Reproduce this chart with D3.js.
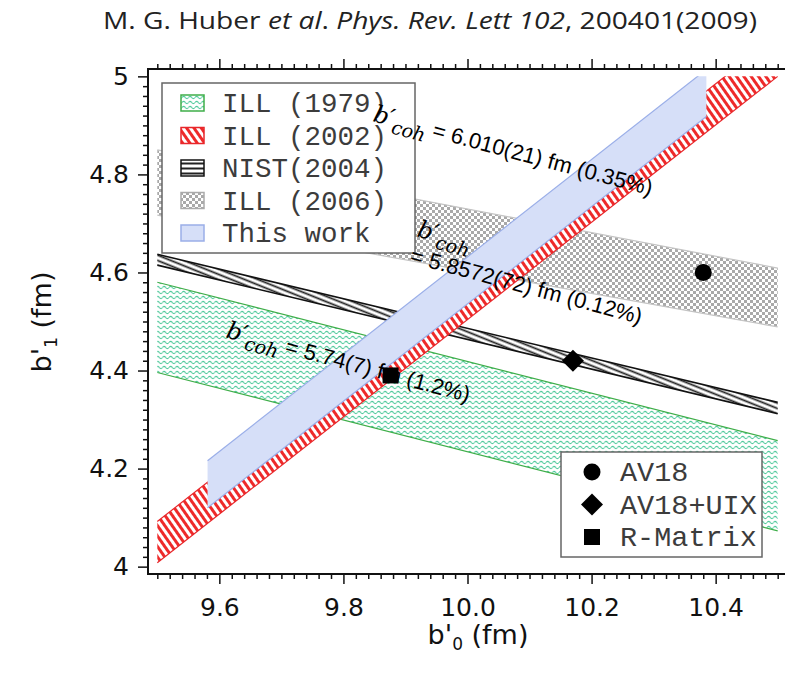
<!DOCTYPE html>
<html><head><meta charset="utf-8">
<script src="https://cdn.jsdelivr.net/npm/d3@7/dist/d3.min.js"></script>
<style>body{margin:0;background:#fff}svg{display:block}</style>
</head><body><svg id="c" width="785" height="676"></svg>
<script>
// ---------------- data ----------------
const bandNames = ["ILL (1979)", "ILL (2002)", "NIST(2004)", "ILL (2006)", "This work"];
const bandB0From = [9.5, 9.5, 9.5, 9.5, 9.581];
const bandB0To = [10.5, 10.5, 10.5, 10.5, 10.385];
const bandUpperFrom = [4.580, 4.092, 4.637, 4.850, 4.216];
const bandUpperTo = [4.257, 5.084, 4.335, 4.609, 5.014];
const bandLowerFrom = [4.396, 4.008, 4.615, 4.717, 4.120];
const bandLowerTo = [4.073, 5.000, 4.312, 4.489, 4.918];

const modelNames = ["AV18", "AV18+UIX", "R-Matrix"];
const modelB0 = [10.38, 10.17, 9.876];
const modelB1 = [4.60, 4.42, 4.39];

const annoValues = ["= 6.010(21) fm (0.35%)", "= 5.8572(72) fm (0.12%)", "= 5.74(7) fm (1.2%)"];
const annoB0 = [9.846, 9.917, 9.609];
const annoB1 = [4.909, 4.674, 4.468];

const xTickValues = [9.6, 9.8, 10.0, 10.2, 10.4];
const xTickLabels = ["9.6", "9.8", "10.0", "10.2", "10.4"];
const yTickValues = [4, 4.2, 4.4, 4.6, 4.8, 5];
const yTickLabels = ["4", "4.2", "4.4", "4.6", "4.8", "5"];

// ---------------- styles ----------------
const bandFill = ["url(#wave)", "url(#stripe)", "url(#hatch)", "url(#checker)", "#d6dff8"];
const bandEdge = ["#3fae49", "#e8262a", "#111111", "#c4c4c4", "#9aaee8"];
const drawOrder = [0, 2, 3, 1, 4];

const svg = d3.select("#c");
const x = d3.scaleLinear().domain([9.485, 10.515]).range([148, 787]);
const y = d3.scaleLinear().domain([3.985, 5.015]).range([574, 69]);

const defs = svg.append("defs");
// green waves
let p = defs.append("pattern").attr("id", "wave").attr("patternUnits", "userSpaceOnUse")
  .attr("width", 6.5).attr("height", 5);
p.append("rect").attr("width", 6.5).attr("height", 5).attr("fill", "#fff");
p.append("path").attr("d", "M0,2.5 Q1.625,0.3 3.25,2.5 T6.5,2.5").attr("fill", "none")
  .attr("stroke", "#4fc99b").attr("stroke-width", 1.1);
// red stripes
p = defs.append("pattern").attr("id", "stripe").attr("patternUnits", "userSpaceOnUse")
  .attr("width", 6).attr("height", 6).attr("patternTransform", "rotate(-35)");
p.append("rect").attr("width", 6).attr("height", 6).attr("fill", "#fff");
p.append("rect").attr("width", 3).attr("height", 6).attr("fill", "#ee2a2a");
// NIST hatch (rotated)
p = defs.append("pattern").attr("id", "hatch").attr("patternUnits", "userSpaceOnUse")
  .attr("width", 6).attr("height", 5).attr("patternTransform", "rotate(22)");
p.append("rect").attr("width", 6).attr("height", 5).attr("fill", "#fff");
p.append("rect").attr("y", 1.6).attr("width", 6).attr("height", 1.8).attr("fill", "#222");
// NIST hatch legend (horizontal)
p = defs.append("pattern").attr("id", "hatchH").attr("patternUnits", "userSpaceOnUse")
  .attr("width", 6).attr("height", 5).attr("y", 1);
p.append("rect").attr("width", 6).attr("height", 5).attr("fill", "#fff");
p.append("rect").attr("y", 1.5).attr("width", 6).attr("height", 2).attr("fill", "#222");
// checker
p = defs.append("pattern").attr("id", "checker").attr("patternUnits", "userSpaceOnUse")
  .attr("width", 6).attr("height", 6);
p.append("rect").attr("width", 6).attr("height", 6).attr("fill", "#fff");
p.append("rect").attr("width", 3).attr("height", 3).attr("fill", "#a9a9a9");
p.append("rect").attr("x", 3).attr("y", 3).attr("width", 3).attr("height", 3).attr("fill", "#a9a9a9");

defs.append("clipPath").attr("id", "dataclip").append("rect")
  .attr("x", x(9.5) - 1).attr("y", y(5.0))
  .attr("width", x(10.5) - x(9.5) + 2).attr("height", y(4.0) - y(5.0));

// ---------------- bands ----------------
const gb = svg.append("g").attr("clip-path", "url(#dataclip)");
drawOrder.forEach(i => {
  const pts = [[bandB0From[i], bandUpperFrom[i]], [bandB0To[i], bandUpperTo[i]],
               [bandB0To[i], bandLowerTo[i]], [bandB0From[i], bandLowerFrom[i]]];
  gb.append("path")
    .attr("d", "M" + pts.map(d => x(d[0]) + "," + y(d[1])).join("L") + "Z")
    .attr("fill", bandFill[i]);
  [[bandUpperFrom[i], bandUpperTo[i]], [bandLowerFrom[i], bandLowerTo[i]]].forEach(e => {
    gb.append("line")
      .attr("x1", x(bandB0From[i])).attr("y1", y(e[0]))
      .attr("x2", x(bandB0To[i])).attr("y2", y(e[1]))
      .attr("stroke", bandEdge[i]).attr("stroke-width", i === 2 ? 1.6 : 1.2);
  });
});

// ---------------- axes ----------------
const minorX = d3.range(0, 51).map(k => 9.5 + k * 0.02).filter(v => !xTickValues.some(t => Math.abs(t - v) < 1e-6));
const minorY = d3.range(0, 51).map(k => 4.0 + k * 0.02).filter(v => !yTickValues.some(t => Math.abs(t - v) < 1e-6));

function styleAxis(g) {
  g.select(".domain").remove();
  g.selectAll("line").attr("stroke", "#111").attr("stroke-width", 1.5);
  g.selectAll("text").attr("font-family", "DejaVu Sans").attr("font-size", 25).attr("fill", "#111");
}
svg.append("g").attr("transform", "translate(0,574)")
  .call(d3.axisBottom(x).tickValues(minorX).tickSize(5).tickFormat("")).call(styleAxis);
svg.append("g").attr("transform", "translate(0,574)")
  .call(d3.axisBottom(x).tickValues(xTickValues).tickSize(10).tickPadding(14)
    .tickFormat((d, i) => xTickLabels[i])).call(styleAxis);
svg.append("g").attr("transform", "translate(0,69)")
  .call(d3.axisTop(x).tickValues(minorX).tickSize(5).tickFormat("")).call(styleAxis);
svg.append("g").attr("transform", "translate(0,69)")
  .call(d3.axisTop(x).tickValues(xTickValues).tickSize(10).tickFormat("")).call(styleAxis);
svg.append("g").attr("transform", "translate(148,0)")
  .call(d3.axisLeft(y).tickValues(minorY).tickSize(5).tickFormat("")).call(styleAxis);
svg.append("g").attr("transform", "translate(148,0)")
  .call(d3.axisLeft(y).tickValues(yTickValues).tickSize(10).tickPadding(9)
    .tickFormat((d, i) => yTickLabels[i])).call(styleAxis);

svg.append("rect").attr("x", 148).attr("y", 69).attr("width", 660).attr("height", 505)
  .attr("fill", "none").attr("stroke", "#111").attr("stroke-width", 2);

// ---------------- model points ----------------
const diamond = "M0,-11L11,0L0,11L-11,0Z";
function drawMarker(g, k, cx, cy, s) {
  if (k === 0) g.append("circle").attr("cx", cx).attr("cy", cy).attr("r", 8.5 * s).attr("fill", "#000");
  else if (k === 1) g.append("path").attr("d", diamond).attr("transform", `translate(${cx},${cy}) scale(${s})`).attr("fill", "#000");
  else g.append("rect").attr("x", cx - 8 * s).attr("y", cy - 8 * s).attr("width", 16 * s).attr("height", 16 * s).attr("fill", "#000");
}

// ---------------- legend 1 ----------------
const lg = svg.append("g");
lg.append("rect").attr("x", 162).attr("y", 83).attr("width", 253).attr("height", 170)
  .attr("fill", "#fff").attr("stroke", "#666").attr("stroke-width", 1.5);
const swFill = ["url(#wave)", "url(#stripe)", "url(#hatchH)", "url(#checker)", "#d6dff8"];
const swEdge = ["#3fae49", "#e8262a", "#111", "#aaaaaa", "#9aaee8"];
bandNames.forEach((n, i) => {
  const cy = 103 + i * 32.5;
  lg.append("rect").attr("x", 181).attr("y", cy - 8).attr("width", 23).attr("height", 16)
    .attr("fill", swFill[i]).attr("stroke", swEdge[i]).attr("stroke-width", 1.5);
  lg.append("text").attr("x", 222).attr("y", cy + 9).attr("font-family", "Liberation Mono")
    .attr("font-size", 27.5).attr("fill", "#3c3c3c").attr("xml:space", "preserve").text(n);
});

// ---------------- legend 2 ----------------
const lg2 = svg.append("g");
lg2.append("rect").attr("x", 561).attr("y", 452).attr("width", 201).attr("height", 105)
  .attr("fill", "#fff").attr("stroke", "#666").attr("stroke-width", 1.5);
modelNames.forEach((n, k) => {
  const cy = 472 + k * 32.5;
  drawMarker(lg2, k, 592, cy, 1);
  lg2.append("text").attr("x", 620).attr("y", cy + 9).attr("font-family", "Liberation Mono")
    .attr("font-size", 28.5).attr("fill", "#3c3c3c").text(n);
});

// ---------------- annotations ----------------
annoValues.forEach((v, i) => {
  const t = svg.append("text")
    .attr("transform", `translate(${x(annoB0[i])},${y(annoB1[i])}) rotate(15)`)
    .attr("fill", "#000");
  t.append("tspan").attr("font-family", "DejaVu Serif").attr("font-style", "italic")
    .attr("font-size", 24).text("b′");
  t.append("tspan").attr("font-family", "DejaVu Serif").attr("font-style", "italic")
    .attr("font-size", 19).attr("dy", 7).text("coh");
  if (i === 1) {
    t.append("tspan").attr("x", 0).attr("y", 27).attr("font-family", "Liberation Sans")
      .attr("font-size", 22).text(v);
  } else {
    t.append("tspan").attr("dy", -7).attr("font-family", "Liberation Sans")
      .attr("font-size", 22).attr("xml:space", "preserve").text(" " + v);
  }
});

modelNames.forEach((m, k) => drawMarker(svg, k, x(modelB0[k]), y(modelB1[k]), 1));

// ---------------- axis titles ----------------
const yt = svg.append("text").attr("transform", "translate(51,322) rotate(-90)")
  .attr("text-anchor", "middle").attr("font-family", "DejaVu Sans").attr("font-size", 27).attr("fill", "#111");
yt.append("tspan").text("b'");
yt.append("tspan").attr("font-size", 17).attr("dy", 6).text("1");
yt.append("tspan").attr("dy", -6).attr("xml:space", "preserve").text(" (fm)");
const xt = svg.append("text").attr("x", 478).attr("y", 644)
  .attr("text-anchor", "middle").attr("font-family", "DejaVu Sans").attr("font-size", 27).attr("fill", "#111");
xt.append("tspan").text("b'");
xt.append("tspan").attr("font-size", 17).attr("dy", 6).text("0");
xt.append("tspan").attr("dy", -6).attr("xml:space", "preserve").text(" (fm)");

// ---------------- title ----------------
const tt = svg.append("text").attr("x", 103).attr("y", 29).attr("font-family", "Open Sans")
  .attr("font-size", 23).attr("fill", "#222").attr("textLength", 654).attr("lengthAdjust", "spacingAndGlyphs")
  .attr("xml:space", "preserve");
tt.append("tspan").text("M. G. Huber ");
tt.append("tspan").attr("font-style", "italic").text("et al");
tt.append("tspan").text(". ");
tt.append("tspan").attr("font-style", "italic").text("Phys. Rev. Lett 102");
tt.append("tspan").text(", 200401(2009)");
</script></body></html>
